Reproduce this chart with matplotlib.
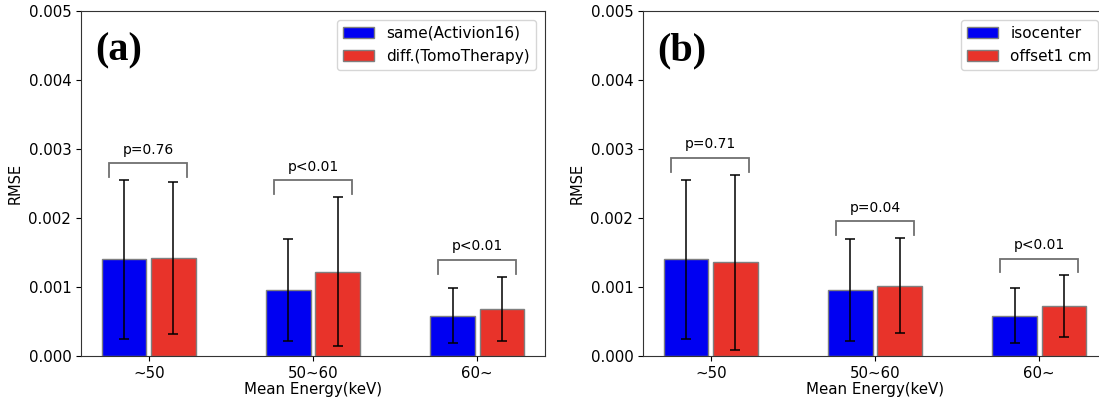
import matplotlib
matplotlib.use("Agg")
import matplotlib.pyplot as plt
import numpy as np

categories = ["~50", "50~60", "60~"]

# Panel (a)
a_labels = ["same(Activion16)", "diff.(TomoTherapy)"]
a_same_mean = [0.00140, 0.000955, 0.000585]
a_same_err = [0.00115, 0.00074, 0.00040]
a_diff_mean = [0.001425, 0.001222, 0.00068]
a_diff_err = [0.00110, 0.00108, 0.00047]
a_pvals = ["p=0.76", "p<0.01", "p<0.01"]

# Panel (b)
b_labels = ["isocenter", "offset1 cm"]
b_iso_mean = [0.00140, 0.000955, 0.000585]
b_iso_err = [0.00115, 0.00074, 0.00040]
b_off_mean = [0.001355, 0.00102, 0.00072]
b_off_err = [0.00127, 0.00069, 0.00045]
b_pvals = ["p=0.71", "p=0.04", "p<0.01"]

yticks = [0.000, 0.001, 0.002, 0.003, 0.004, 0.005]

BLUE = "#0000f2"
RED = "#e8332a"

W, H = 1099, 404
fig = plt.figure(figsize=(W / 100, H / 100), dpi=100)

def panel(ax, m1, e1, m2, e2, labels, pvals, tag):
    x = np.arange(len(categories))
    w = 0.27
    off = 0.15
    ax.bar(x - off, m1, w, yerr=e1, color=BLUE, edgecolor="#7f7f7f", linewidth=1.0,
           capsize=3.5, error_kw=dict(elinewidth=1.1, ecolor="black", capthick=1.1), label=labels[0])
    ax.bar(x + off, m2, w, yerr=e2, color=RED, edgecolor="#7f7f7f", linewidth=1.0,
           capsize=3.5, error_kw=dict(elinewidth=1.1, ecolor="black", capthick=1.1), label=labels[1])
    for i in range(len(categories)):
        top = max(m1[i] + e1[i], m2[i] + e2[i]) + 0.00024
        xl, xr = x[i] - 0.24, x[i] + 0.235
        ax.plot([xl, xl, xr, xr], [top - 0.0002, top, top, top - 0.0002],
                color="#707070", lw=1.3, solid_joinstyle="miter")
        ax.text(x[i], top + 0.0002, pvals[i], ha="center", va="center", fontsize=10)
    ax.set_ylim(0, 0.005)
    ax.set_yticks(yticks)
    ax.set_yticklabels([f"{t:.3f}" for t in yticks])
    ax.set_xticks(x)
    ax.set_xticklabels(categories)
    ax.tick_params(labelsize=10.8)
    for s in ax.spines.values():
        s.set_color("#333333")
    ax.set_ylabel("RMSE", fontsize=10.5)
    ax.set_xlabel("Mean Energy(keV)", fontsize=10.8, labelpad=1)
    ax.legend(loc="upper right", fontsize=11, borderaxespad=0.6)
    ax.text(0.03, 0.885, tag, transform=ax.transAxes, ha="left", va="center",
            fontsize=29, fontweight="bold", family="Liberation Serif")

bottom = (H - 356) / H
height = 345.3 / H
axw = 464 / W
ax1 = fig.add_axes([81 / W, bottom, axw, height])
ax2 = fig.add_axes([643 / W, bottom, axw, height])

panel(ax1, a_same_mean, a_same_err, a_diff_mean, a_diff_err, a_labels, a_pvals, "(a)")
panel(ax2, b_iso_mean, b_iso_err, b_off_mean, b_off_err, b_labels, b_pvals, "(b)")

fig.savefig("out.png", dpi=100)
